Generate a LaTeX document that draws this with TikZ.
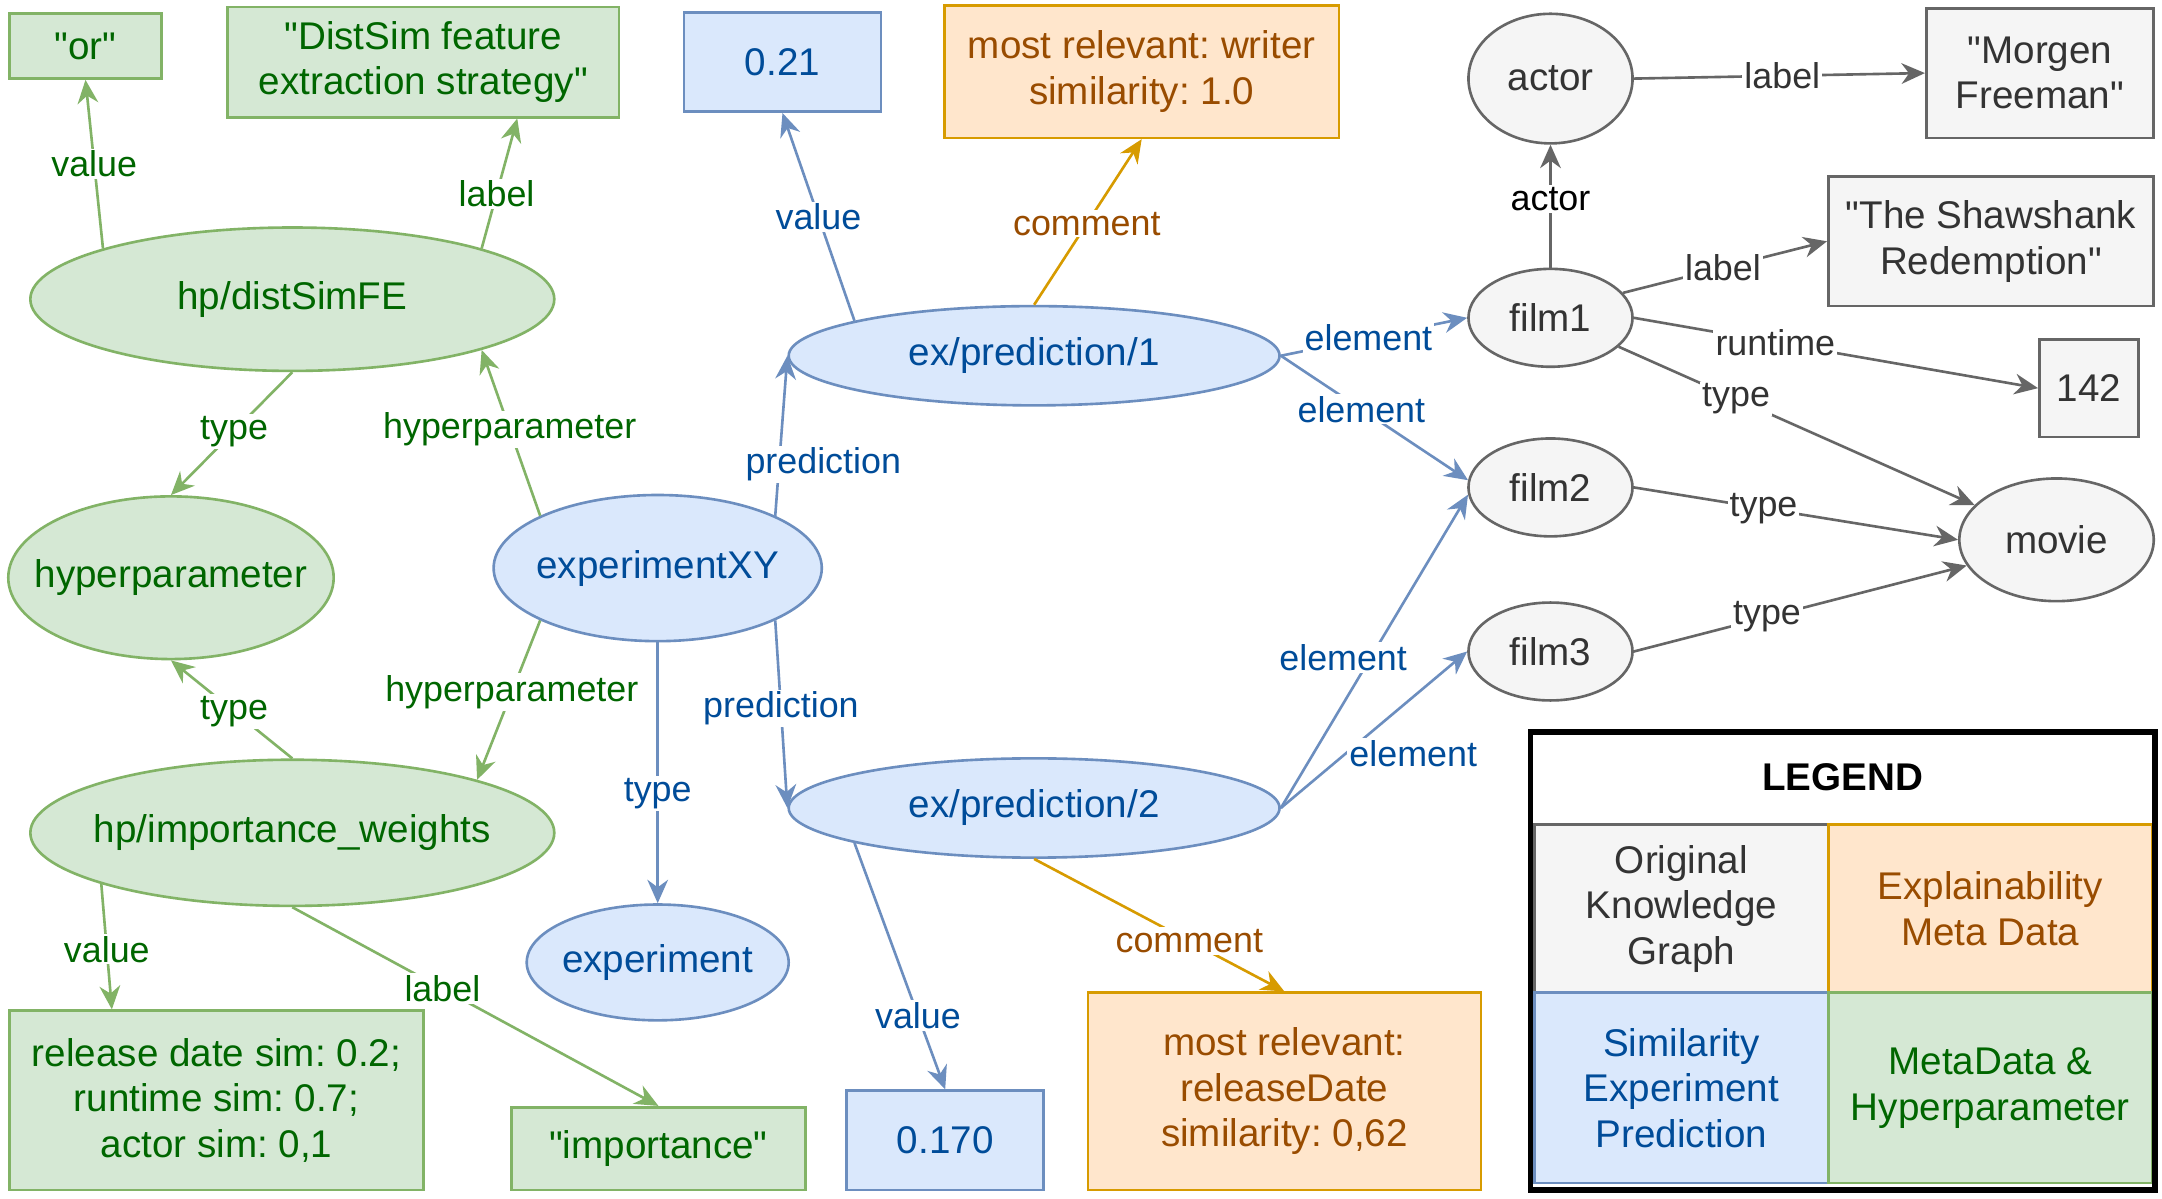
\documentclass[tikz,border=0pt]{standalone}
\usepackage{fontspec}
\setmainfont{Liberation Sans}[Ligatures=TeXOff]
\usetikzlibrary{shapes.geometric,arrows.meta}
\definecolor{gfill}{HTML}{D5E8D4}\definecolor{gdraw}{HTML}{82B366}\definecolor{gtext}{HTML}{006600}
\definecolor{bfill}{HTML}{DAE8FC}\definecolor{bdraw}{HTML}{6C8EBF}\definecolor{btext}{HTML}{004C99}
\definecolor{ofill}{HTML}{FFE6CC}\definecolor{odraw}{HTML}{D79B00}\definecolor{otext}{HTML}{994C00}
\definecolor{kfill}{HTML}{F5F5F5}\definecolor{kdraw}{HTML}{666666}\definecolor{ktext}{HTML}{333333}
\newcommand\ctxt[1]{\makebox[0pt][c]{#1}}
\frenchspacing
\begin{document}
\frenchspacing
\begin{tikzpicture}[x=1pt,y=-1pt,
  nodefont/.style={font=\fontsize{28}{33}\selectfont},
  labfont/.style={font=\fontsize{26}{30}\selectfont},
  base/.style={nodefont, line width=1.9pt, inner sep=0pt, align=center},
  gell/.style={base, ellipse, draw=gdraw, fill=gfill, text=gtext},
  bell/.style={base, ellipse, draw=bdraw, fill=bfill, text=btext},
  kell/.style={base, ellipse, draw=kdraw, fill=kfill, text=ktext},
  gbox/.style={base, rectangle, draw=gdraw, fill=gfill, text=gtext},
  bbox/.style={base, rectangle, draw=bdraw, fill=bfill, text=btext},
  obox/.style={base, rectangle, draw=odraw, fill=ofill, text=otext},
  kbox/.style={base, rectangle, draw=kdraw, fill=kfill, text=ktext},
  tip/.style={-{Stealth[length=17pt,width=15pt,inset=5.5pt]}},
  gedge/.style={tip, draw=gdraw, line width=1.9pt},
  bedge/.style={tip, draw=bdraw, line width=1.9pt},
  oedge/.style={tip, draw=odraw, line width=1.9pt},
  kedge/.style={tip, draw=kdraw, line width=1.9pt},
  lab/.style={labfont, fill=white, inner sep=1.5pt},
  glab/.style={lab, text=gtext},
  blab/.style={lab, text=btext},
  olab/.style={lab, text=otext},
  klab/.style={lab, text=ktext},
  sz/.style 2 args={minimum width=#1, minimum height=#2}
]
\fill[white] (0,0) rectangle (1568,869);
\useasboundingbox (0,0) rectangle (1568,869);

% green nodes
\node[gbox, sz={110}{47}] (or) at (62,33.5) {"or"};
\node[gbox, sz={284}{80}] (distsim) at (307,45) {"DistSim feature\\extraction strategy"};
\node[gell, sz={380}{104}] (dsfe) at (212,217) {\ctxt{hp/distSimFE}};
\node[gell, sz={236}{118}] (hyp) at (124,419) {\ctxt{hyperparameter}};
\node[gell, sz={380}{106}] (iw) at (212,604) {\ctxt{hp/importance\_weights}};
\node[gbox, sz={300}{130}] (release) at (157,798) {release date sim: 0.2;\\runtime sim: 0.7;\\actor sim: 0,1};
\node[gbox, sz={213}{60}] (importance) at (477.5,833) {"importance"};

% blue nodes
\node[bell, sz={238}{106}] (exp) at (477,412) {\ctxt{experimentXY}};
\node[bell, sz={190}{84}] (expt) at (477,698) {\ctxt{experiment}};
\node[bell, sz={356}{72}] (p1) at (750,258) {\ctxt{ex/prediction/1}};
\node[bell, sz={356}{72}] (p2) at (750,586) {\ctxt{ex/prediction/2}};
\node[bbox, sz={143}{72}] (v21) at (567.5,45) {0.21};
\node[bbox, sz={143}{72}] (v170) at (685.5,827) {0.170};

% orange nodes
\node[obox, sz={286}{96}] (com1) at (828,52) {most relevant: writer\\similarity: 1.0};
\node[obox, sz={285}{143}] (com2) at (931.5,791.5) {most relevant:\\releaseDate\\similarity: 0,62};

% gray nodes
\node[kell, sz={119}{94}] (actor) at (1124.5,57) {\ctxt{actor}};
\node[kell, sz={119}{71}] (film1) at (1124.5,230.5) {\ctxt{film1}};
\node[kell, sz={119}{71}] (film2) at (1124.5,353.5) {\ctxt{film2}};
\node[kell, sz={119}{71}] (film3) at (1124.5,472.5) {\ctxt{film3}};
\node[kell, sz={141}{89}] (movie) at (1491.5,391.5) {\ctxt{movie}};
\node[kbox, sz={165}{94}] (morgen) at (1479.5,53) {"Morgen\\Freeman"};
\node[kbox, sz={236}{94}] (shaw) at (1444,175) {"The Shawshank\\Redemption"};
\node[kbox, sz={72}{71}] (r142) at (1515,281.5) {142};

% green edges
\draw[gedge] (dsfe.165) -- node[glab,pos=.5]{value} (or.south);
\draw[gedge] (dsfe.15) -- node[glab,pos=.42]{label} (distsim.329);
\draw[gedge] (dsfe.south) -- node[glab,pos=.48]{type} (hyp.north);
\draw[gedge] (exp.156) -- node[glab,pos=.52]{hyperparameter} (dsfe.345);
\draw[gedge] (exp.204) -- node[glab,pos=.45]{hyperparameter} (iw.16);
\draw[gedge] (iw.north) -- node[glab,pos=.48]{type} (hyp.south);
\draw[gedge] (iw.195) -- node[glab,pos=.52]{value} (release.139);
\draw[gedge] (iw.south) -- node[glab,pos=.41]{label} (importance.north);

% blue edges
\draw[bedge] (exp.south) -- node[blab,pos=.58]{type} (expt.north);
\draw[bedge] (exp.24) -- node[blab,pos=.32,xshift=32]{prediction} (p1.west);
\draw[bedge] (exp.336) -- node[blab,pos=.47]{prediction} (p2.west);
\draw[bedge] (p1.169) -- node[blab,pos=.5]{value} (v21.south);
\draw[bedge] (p2.191) -- node[blab,pos=.7]{value} (v170.north);
\draw[bedge] (p1.east) -- node[blab,pos=.47]{element} (film1.west);
\draw[bedge] (p1.east) -- node[blab,pos=.43]{element} (film2.175);
\draw[bedge] (p2.east) -- node[blab,pos=.48,xshift=-20]{element} (film2.185);
\draw[bedge] (p2.east) -- node[blab,pos=.35,anchor=west]{element} (film3.west);

% orange edges
\draw[oedge] (p1.north) -- node[olab,pos=.49]{comment} (com1.south);
\draw[oedge] (p2.south) -- node[olab,pos=.62]{comment} (com2.north);

% gray edges
\draw[kedge] (actor.east) -- node[klab,pos=.51]{label} (morgen.west);
\draw[kedge] (film1.north) -- node[lab,text=black,pos=.56]{actor} (actor.south);
\draw[kedge] (film1.19) -- node[klab,pos=.49]{label} (shaw.west);
\draw[kedge] (film1.east) -- node[klab,pos=.35]{runtime} (r142.west);
\draw[kedge] (film1.337) -- node[klab,pos=.33]{type} (movie.157);
\draw[kedge] (film2.east) -- node[klab,pos=.4]{type} (movie.west);
\draw[kedge] (film3.east) -- node[klab,pos=.4]{type} (movie.196);

% legend
\node[kbox, sz={213}{122}] (lk) at (1219.5,659) {Original\\Knowledge\\Graph};
\node[obox, sz={235}{122}] (lo) at (1443.5,659) {Explainability\\Meta Data};
\node[bbox, sz={213}{138}] (lb) at (1219.5,789) {Similarity\\Experiment\\Prediction};
\node[gbox, sz={235}{138}] (lg) at (1443.5,789) {MetaData \&\\Hyperparameter};
\node[draw=black, line width=4pt, sz={453}{332}, inner sep=0pt] (legend) at (1336.5,697) {};
\node[nodefont, font=\fontsize{28}{33}\selectfont\bfseries] (legtitle) at (1336.5,564) {LEGEND};
\end{tikzpicture}
\end{document}
